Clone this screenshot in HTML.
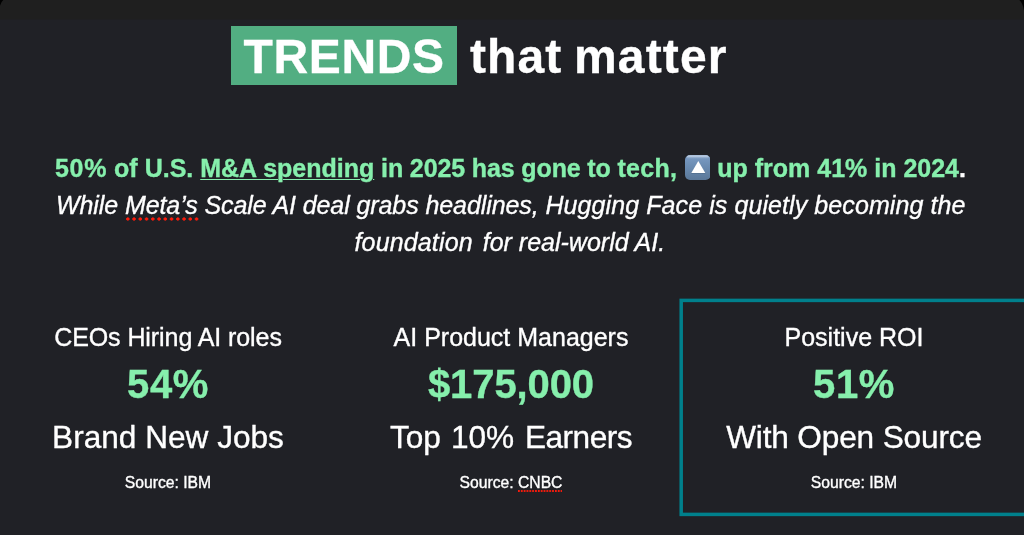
<!DOCTYPE html>
<html lang="en">
<head>
<meta charset="utf-8">
<title>Trends that matter</title>
<style>
  html, body { margin: 0; padding: 0; }
  body {
    width: 1024px; height: 535px; overflow: hidden; position: relative;
    background: #202126;
    font-family: "Liberation Sans", "Helvetica Neue", Helvetica, Arial, sans-serif;
    color: #fff;
    -webkit-text-stroke: 0.35px currentColor;
  }
  .abs { position: absolute; white-space: nowrap; }
  #corners { position: absolute; left: 0; top: 0; }
  #heading { left: 243.6px; top: 29px; font-size: 48px; font-weight: bold; line-height: 55px; }
  #tagbox { position: absolute; left: 231px; top: 26px; width: 226px; height: 59px; background: #52ae82; }
  #heading .rest { letter-spacing: 1.15px; word-spacing: -3px; }
  #heading .tag { letter-spacing: 0.6px; margin-right: 12px; }
  #lead { position: absolute; left: 0; top: 0; font-size: 25px; line-height: 37px; }
  #lead .l { position: absolute; white-space: nowrap; }
  #l1 { left: 55px; top: 150px; }
  #l2 { left: 56px; top: 187px; }
  #l3 { left: 354.5px; top: 224px; }
  .ls1 { letter-spacing: 0.7px; }
  .ls2a { letter-spacing: -0.09px; }
  .ls2b { letter-spacing: 0.09px; }
  .ls3 { margin-right: 3px; letter-spacing: 0.15px; }
  .g { color: #86efac; font-weight: bold; }
  .g a { color: inherit; text-decoration: underline; text-decoration-thickness: 1.4px; text-underline-offset: 1.6px; }
  .w { font-weight: bold; }
  .i { font-style: italic; }
  .sp { position: relative; }
  .sp::after { content: ""; position: absolute; left: 1.5px; right: -1px; top: 25.5px; height: 4px;
    background: radial-gradient(circle at 1.8px 2px, #ff1a0a 1.35px, rgba(255,26,10,0) 1.9px) 0 0 / 6.25px 4px repeat-x; }
  .sp.sm::after { top: 15.6px; height: 2px; left: 0; right: 0;
    background: radial-gradient(circle at 0.9px 1px, #ff1a0a 0.65px, rgba(255,26,10,0) 1.1px) 0 0 / 2.85px 2px repeat-x; }
  .emoji { display: inline-block; width: 25.6px; height: 25px; vertical-align: -3px; margin-left: -0.5px; margin-right: -0.1px; }
  .col { position: absolute; width: 342px; text-align: center; top: 0; }
  .col div { position: absolute; left: 0; width: 100%; white-space: nowrap; }
  .t1 { top: 323px; font-size: 25px; line-height: 29px; }
  .t2 { top: 361px; font-size: 40px; line-height: 46px; font-weight: bold; color: #86efac; letter-spacing: 0.6px; }
  .t2.n { letter-spacing: -0.1px; }
  .t3 { top: 419px; font-size: 31.6px; line-height: 36px; }
  .t4 { top: 474px; font-size: 15.7px; line-height: 18px; }
  #box { position: absolute; left: 0; top: 0; }
</style>
</head>
<body>
<svg id="corners" width="1024" height="24" viewBox="0 0 1024 24">
  <rect x="0" y="0" width="1024" height="19.4" fill="#1f1f1f"/>
  <path d="M0 0 H3.3 Q0.9 2 0 5.7 Z" fill="#000"/>
  <path d="M1024 0 H1019.4 Q1023 3.4 1024 10.6 Z" fill="#000"/>
</svg>

<div id="tagbox"></div>
<div id="heading" class="abs"><span class="tag">TRENDS</span> <span class="rest">that matter</span></div>

<div id="lead">
  <div class="l" id="l1"><span class="g"><span class="ls1">50%</span> of U.S. <a>M&amp;A spending</a><span style="letter-spacing:-0.125px"> in 2025 has gone to </span><span style="letter-spacing:0.25px">tech,</span><span style="margin-left:1.2px"> </span><svg class="emoji" viewBox="0 0 25.6 25"><defs><linearGradient id="eg" x1="0" y1="0" x2="0" y2="1"><stop offset="0" stop-color="#7c9cc4"/><stop offset="0.45" stop-color="#6b8cb2"/><stop offset="1" stop-color="#5a7798"/></linearGradient><linearGradient id="eh" x1="0" y1="0" x2="0" y2="1"><stop offset="0" stop-color="#e6eef8" stop-opacity="0.95"/><stop offset="1" stop-color="#9db6d4" stop-opacity="0"/></linearGradient></defs><rect x="0" y="0" width="25.6" height="25" rx="5" fill="url(#eg)"/><rect x="1.8" y="0.4" width="22" height="3.6" rx="1.8" fill="url(#eh)"/><path d="M13.3 6.7 L20.6 18.8 H6 Z" fill="#3f5876" fill-opacity="0.45"/><path d="M13.3 5.9 L20.3 18 H6.3 Z" fill="#fff"/></svg> up from 41% in 2024</span><span class="w">.</span></div>
  <div class="l i" id="l2"><span class="ls2a">While <span class="sp">Meta’s</span> Scale AI deal grabs headlines, </span><span class="ls2b">Hugging Face is quietly becoming the</span></div>
  <div class="l i" id="l3"><span class="ls3">foundation</span> for real-world AI.</div>
</div>

<div class="col" style="left:-3px">
  <div class="t1" style="letter-spacing:-0.08px">CEOs Hiring AI roles</div>
  <div class="t2">54%</div>
  <div class="t3">Brand New Jobs</div>
  <div class="t4">Source: IBM</div>
</div>
<div class="col" style="left:340px">
  <div class="t1">AI Product Managers</div>
  <div class="t2 n">$175,000</div>
  <div class="t3">Top <span style="margin-left:1.2px">10%</span> <span style="margin-left:2px;letter-spacing:-0.5px">Earners</span></div>
  <div class="t4">Source: <span class="sp sm">CNBC</span></div>
</div>
<div class="col" style="left:683px">
  <div class="t1">Positive ROI</div>
  <div class="t2">51%</div>
  <div class="t3" style="letter-spacing:-0.15px">With Open Source</div>
  <div class="t4">Source: IBM</div>
</div>

<svg id="box" width="1024" height="535" viewBox="0 0 1024 535">
  <rect x="681.2" y="300.4" width="360" height="214" fill="none" stroke="#00808c" stroke-width="3.5"/>
</svg>
</body>
</html>
